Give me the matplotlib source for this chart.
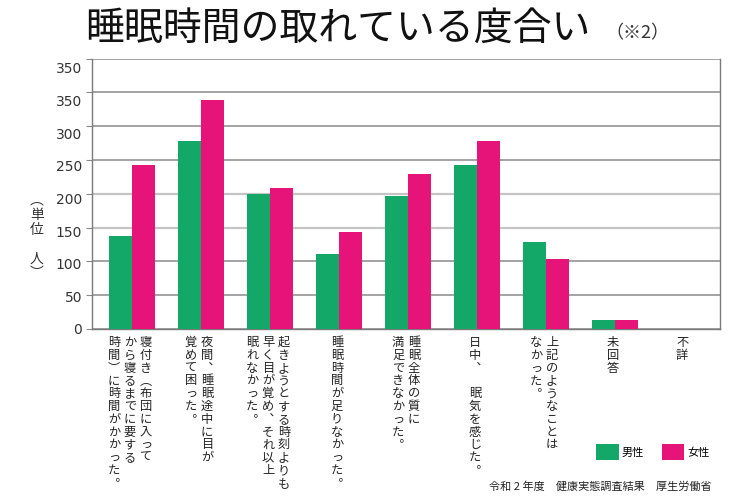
import matplotlib
matplotlib.use('Agg')
import matplotlib.pyplot as plt
import numpy as np

plt.rcParams['font.family'] = ['Noto Sans CJK JP', 'DejaVu Sans']

# columns of the vertical category labels are separated by "\n" (right column first)
categories = [
    "寝付き（布団に入って\nから寝るまでに要する\n時間）に時間がかかった。",
    "夜間、睡眠途中に目が\n覚めて困った。",
    "起きようとする時刻よりも\n早く目が覚め、それ以上\n眠れなかった。",
    "睡眠時間が足りなかった。",
    "睡眠全体の質に\n満足できなかった。",
    "日中、　眠気を感じた。",
    "上記のようなことは\nなかった。",
    "未回答",
    "不詳",
]
male = [138, 278, 200, 111, 197, 243, 129, 13, 0]
female = [243, 338, 209, 143, 229, 278, 103, 13, 0]
series_names = ['男性', '女性']
y_ticks = [0, 50, 100, 150, 200, 250, 300, 350, 400]
y_ticklabels = ['0', '50', '100', '150', '200', '250', '300', '350', '350']
title = '睡眠時間の取れている度合い'
title_note = '（※2）'
y_title = '（単位　人）'
source = '令和 2 年度　健康実態調査結果　厚生労働省'

GREEN = '#13a867'
PINK = '#e61478'
W, H = 750, 500

fig = plt.figure(figsize=(7.5, 5), dpi=100)
ax = fig.add_axes([92 / W, 1 - 329 / H, 628 / W, 270.5 / H])

x = np.arange(len(categories))
bw = 0.333
b1 = ax.bar(x - bw / 2, male, bw, color=GREEN, zorder=3)
b2 = ax.bar(x + bw / 2, female, bw, color=PINK, zorder=3)

ax.set_xlim(-0.58, 8.52)
ax.set_ylim(0, 400)
ax.set_xticks([])

# gridlines at the real values, labels drawn slightly compressed like the original
ax.yaxis.remove_overlapping_locs = False
ax.set_yticks(y_ticks)
ax.set_yticklabels([''] * len(y_ticks))
ax.set_yticks(np.array(y_ticks) * 0.965, minor=True)
ax.set_yticklabels(y_ticklabels, minor=True, fontfamily='DejaVu Sans', fontsize=10, color='#333333')
ax.tick_params(axis='y', which='major', length=4, color='#888888', direction='out')
ax.tick_params(axis='y', which='minor', length=0, pad=7)
ax.yaxis.grid(True, which='major', color='#8a8a8a', lw=1.1, zorder=0)
for gl, v in zip(ax.get_ygridlines(), y_ticks):
    if v in (150, 200):
        gl.set_color('#c4c4c4')
        gl.set_linewidth(1.6)

for s in ['left', 'right', 'bottom']:
    ax.spines[s].set_color('#7a7a7a')
    ax.spines[s].set_linewidth(1.0)
ax.spines['top'].set_visible(False)

FS = 8.8
COLGAP = 16
# vertical writing forms for brackets and punctuation
vert_map = str.maketrans({'（': '︵', '）': '︶', '、': '︑', '。': '︒'})


def to_vertical(s):
    return '\n'.join(s.translate(vert_map))


def vertical_label(xc, text):
    cols = text.split('\n')
    n = len(cols)
    for j, col in enumerate(cols):
        dx = ((n - 1) / 2 - j) * COLGAP - 2
        ax.annotate(to_vertical(col), xy=(xc, 0), xycoords=('data', 'axes fraction'),
                    xytext=(dx, -7), textcoords='offset pixels',
                    ha='center', va='top', fontsize=FS, color='#222222',
                    linespacing=0.98, annotation_clip=False)


for xi, lab in zip(x, categories):
    vertical_label(xi, lab)

# y axis title, written vertically
fig.text(37 / W, 1 - 237 / H, to_vertical(y_title), ha='center', va='center',
         fontsize=10, color='#333333', linespacing=1.05)

fig.text(338 / W, 1 - 29 / H, title, ha='center', va='center', fontsize=28, color='#111111')
fig.text(637 / W, 1 - 33 / H, title_note, ha='center', va='center', fontsize=13, color='#333333')

ax.legend([b1, b2], series_names, loc='center', bbox_to_anchor=(653 / W, 1 - 452 / H),
          bbox_transform=fig.transFigure, ncol=2, frameon=False, fontsize=8,
          handlelength=2.0, handleheight=1.8, handletextpad=0.3, columnspacing=1.6)

fig.text(712 / W, 1 - 487 / H, source, ha='right', va='center', fontsize=8, color='#222222')

fig.savefig('out.png', dpi=100)
